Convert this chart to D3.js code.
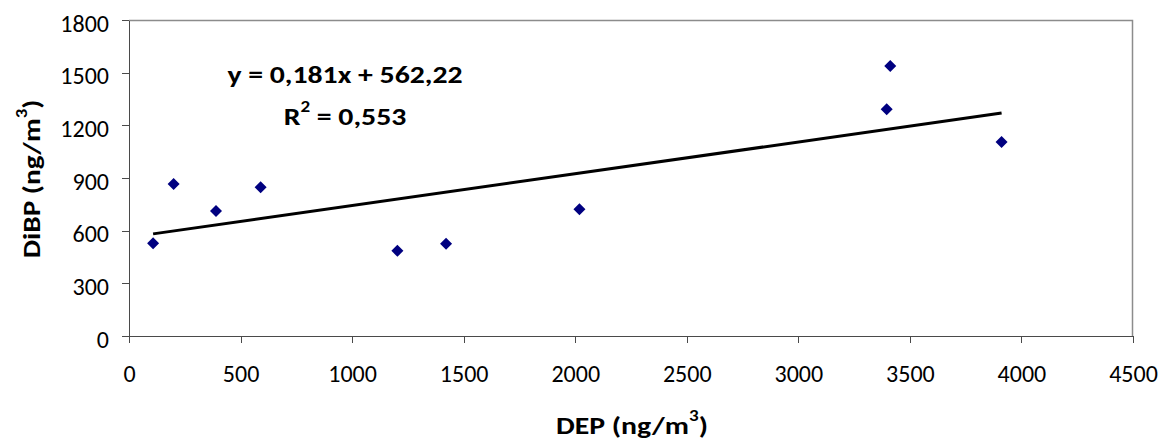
<!DOCTYPE html>
<html lang="en">
<head>
    <meta charset="UTF-8">
    <title>DiBP vs DEP</title>
    <style>
        body {
            margin: 0;
            background: #fff;
            font-family: Carlito, Lato, "Open Sans", sans-serif;
        }
        .tick text {
            font-size: 24px;
            fill: #000;
            font-family: Carlito, Lato, "Open Sans", sans-serif;
        }
        .axis path,
        .axis line {
            stroke: #4a4a4a;
            shape-rendering: crispEdges;
        }
        .title {
            font-size: 25px;
            font-weight: bold;
            fill: #000;
        }
    </style>
</head>
<body>
    <svg id="chart" width="1162" height="441"></svg>

    <script src="https://d3js.org/d3.v7.min.js"></script>
    <script>
        // DEP (x) and DiBP (y), ng/m3
        const dep = [108, 200, 390, 590, 1203, 1421, 2019, 3412, 3396, 3911];
        const dibp = [528, 866, 712, 847, 485, 526, 722, 1538, 1291, 1105];

        const xTicks = [0, 500, 1000, 1500, 2000, 2500, 3000, 3500, 4000, 4500];
        const yTicks = [0, 300, 600, 900, 1200, 1500, 1800];

        // linear trendline as printed on the chart
        const slope = 0.181;
        const intercept = 562.22;

        const svg = d3.select('#chart');
        const margin = { top: 20, right: 29, bottom: 105, left: 129 };
        const width = 1162 - margin.left - margin.right;
        const height = 441 - margin.top - margin.bottom;

        const chart = svg.append('g').attr('transform', `translate(${margin.left},${margin.top})`);

        const x = d3.scaleLinear().domain([0, 4500]).range([0, width]);
        const y = d3.scaleLinear().domain([0, 1800]).range([height, 0]);

        // plot area border on top and right
        chart.append('path')
            .attr('d', `M0,0.5H${width - 0.5}V${height}`)
            .attr('fill', 'none')
            .attr('stroke', '#8c8c8c')
            .attr('stroke-width', 1.5);

        const xAxis = chart.append('g')
            .attr('class', 'axis')
            .attr('transform', `translate(0,${height})`)
            .call(d3.axisBottom(x).tickValues(xTicks).tickFormat(d3.format('d')).tickSize(7).tickSizeOuter(0));
        xAxis.selectAll('text').attr('dy', null).attr('y', 46);

        const yAxis = chart.append('g')
            .attr('class', 'axis')
            .call(d3.axisLeft(y).tickValues(yTicks).tickFormat(d3.format('d')).tickSize(7).tickSizeOuter(0).tickPadding(13));
        yAxis.selectAll('text').attr('dy', 11);

        chart.selectAll('.axis .domain').attr('stroke-width', 1.5);

        const points = dep.map((d, i) => ({ x: d, y: dibp[i] }));

        // trendline from smallest to largest x
        const [xMin, xMax] = d3.extent(dep);
        chart.append('line')
            .attr('x1', x(xMin))
            .attr('y1', y(slope * xMin + intercept))
            .attr('x2', x(xMax))
            .attr('y2', y(slope * xMax + intercept))
            .attr('stroke', '#000')
            .attr('stroke-width', 3);

        chart.selectAll('.pt')
            .data(points)
            .enter().append('path')
            .attr('class', 'pt')
            .attr('d', 'M0,-6L6,0L0,6L-6,0Z')
            .attr('transform', d => `translate(${x(d.x)},${y(d.y)})`)
            .attr('fill', '#000080');

        // bold label with an optional superscript
        function label(transform, before, sup, after) {
            const t = svg.append('text')
                .attr('class', 'title')
                .attr('text-anchor', 'middle')
                .attr('transform', transform);
            t.append('tspan').text(before);
            if (sup) {
                t.append('tspan').attr('dy', -13).attr('font-size', 16).text(sup);
                t.append('tspan').attr('dy', 13).text(after);
            }
            return t;
        }

        label('translate(345,83) scale(1.19,1)', 'y = 0,181x + 562,22');
        label('translate(345,125) scale(1.19,1)', 'R', '2', ' = 0,553');
        label('translate(632,434) scale(1.19,1)', 'DEP (ng/m', '3', ')');
        label('translate(40,179) rotate(-90) scale(1.17,1)', 'DiBP (ng/m', '3', ')');
    </script>
</body>
</html>
